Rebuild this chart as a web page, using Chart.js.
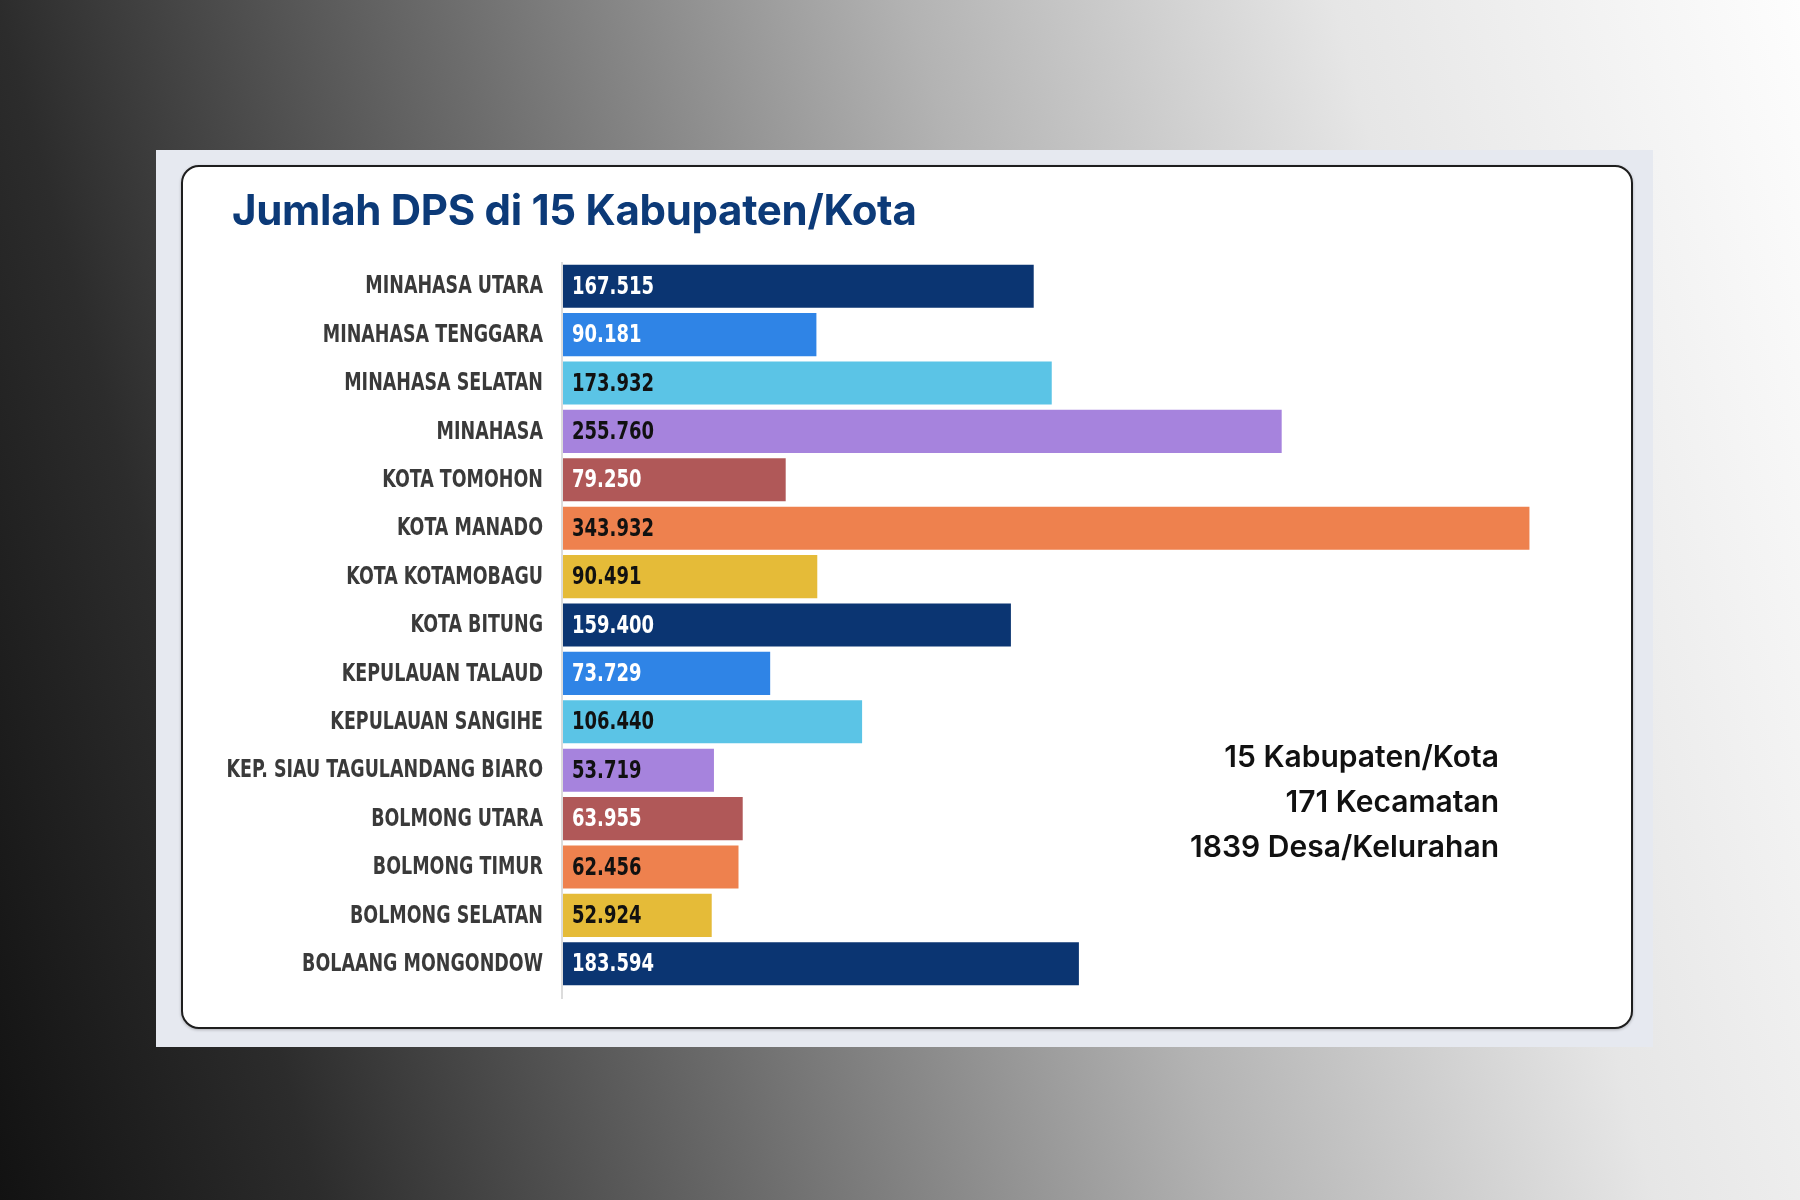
<!DOCTYPE html>
<html>
<head>
<meta charset="utf-8">
<script src="https://cdn.jsdelivr.net/npm/chart.js@4.4.1/dist/chart.umd.min.js"></script>
<style>
  html, body { margin: 0; padding: 0; }
  body {
    width: 1800px; height: 1200px; position: relative; overflow: hidden;
    background: linear-gradient(75deg, #121212 0%, #2c2c2c 15%, #6c6c6c 36%, #b3b3b3 58%, #e6e6e6 78%, #fdfdfd 100%);
  }
  #panel { position: absolute; left: 156px; top: 150px; width: 1497px; height: 897px; background: #e6e9f0; }
  #box {
    position: absolute; left: 181px; top: 165px; width: 1448px; height: 860px;
    background: #fff; border: 2px solid #1e1e1e; border-radius: 18px;
    box-shadow: 0 1px 3px rgba(0,0,0,0.25);
  }
  #title {
    position: absolute; left: 232px; top: 189px; margin: 0;
    font: 700 42px/1 Inter, "Open Sans", sans-serif; letter-spacing: -0.3px;
    color: #0c3a78; white-space: nowrap;
  }
  #stats {
    position: absolute; right: 301px; top: 734px; text-align: right;
    font: 600 30px/45px Inter, "Open Sans", sans-serif; color: #111;
  }
  #wrap { position: absolute; left: 0; top: 0; width: 1800px; height: 1200px; }
</style>
</head>
<body>
<div id="panel"></div>
<div id="box"></div>
<div id="wrap"><canvas id="dps-chart" width="1800" height="1200"></canvas></div>
<h1 id="title">Jumlah DPS di 15 Kabupaten/Kota</h1>
<div id="stats">15 Kabupaten/Kota<br>171 Kecamatan<br>1839 Desa/Kelurahan</div>
<script>
// data
const regions = ['MINAHASA UTARA', 'MINAHASA TENGGARA', 'MINAHASA SELATAN', 'MINAHASA', 'KOTA TOMOHON',
    'KOTA MANADO', 'KOTA KOTAMOBAGU', 'KOTA BITUNG', 'KEPULAUAN TALAUD', 'KEPULAUAN SANGIHE',
    'KEP. SIAU TAGULANDANG BIARO', 'BOLMONG UTARA', 'BOLMONG TIMUR', 'BOLMONG SELATAN', 'BOLAANG MONGONDOW'];
const dpsValues = [167515, 90181, 173932, 255760, 79250, 343932, 90491, 159400, 73729, 106440,
    53719, 63955, 62456, 52924, 183594];

// colour cycle used in the picture
const palette = ['#0b3572', '#2f84e6', '#5bc4e6', '#a683dd', '#b05858', '#ee814e', '#e5bb38'];
const labelInk = ['#fff', '#fff', '#111', '#111', '#fff', '#111', '#111'];

const barColors = dpsValues.map((v, i) => palette[i % palette.length]);
const valueColors = dpsValues.map((v, i) => labelInk[i % labelInk.length]);

const condensedFont = '"Liberation Sans Narrow", "DejaVu Sans Condensed", "DejaVu Sans", sans-serif';

function formatId(n) {
    return String(n).replace(/\B(?=(\d{3})+(?!\d))/g, '.');
}

// squeeze text horizontally, the installed fonts are wider than the original condensed face
function narrowText(ctx, text, x, y, squeeze) {
    ctx.save();
    ctx.translate(x, y);
    ctx.scale(squeeze, 1);
    ctx.fillText(text, 0, 0);
    ctx.restore();
}

// category names, axis line and the value inside each bar
const barText = {
    id: 'barText',
    afterDraw(chart) {
        const ctx = chart.ctx;
        const yScale = chart.scales.y;
        const area = chart.chartArea;
        ctx.save();

        ctx.strokeStyle = '#dcdcdc';
        ctx.lineWidth = 2;
        ctx.beginPath();
        ctx.moveTo(area.left - 1, area.top);
        ctx.lineTo(area.left - 1, area.bottom + 11);
        ctx.stroke();

        ctx.font = 'bold 24px ' + condensedFont;
        ctx.fillStyle = '#3a3a3a';
        ctx.textAlign = 'right';
        ctx.textBaseline = 'middle';
        regions.forEach((name, i) => {
            narrowText(ctx, name, area.left - 20, yScale.getPixelForTick(i) + 1, 0.81);
        });

        const meta = chart.getDatasetMeta(0);
        ctx.font = 'bold 25px ' + condensedFont;
        ctx.textAlign = 'left';
        meta.data.forEach((bar, i) => {
            ctx.fillStyle = valueColors[i];
            narrowText(ctx, formatId(dpsValues[i]), bar.base + 9, bar.y + 1, 0.8);
        });
        ctx.restore();
    }
};

var ctx = document.getElementById('dps-chart').getContext('2d');
var chart = new Chart(ctx, {
    type: 'bar',
    data: {
        labels: regions,
        datasets: [{
            data: dpsValues,
            backgroundColor: barColors,
            borderWidth: 0,
            categoryPercentage: 1,
            barPercentage: 0.89
        }]
    },
    options: {
        indexAxis: 'y',
        responsive: false,
        devicePixelRatio: 1,
        animation: false,
        layout: { padding: { left: 0, right: 113, top: 262, bottom: 212 } },
        plugins: { legend: { display: false }, tooltip: { enabled: false } },
        scales: {
            x: { display: false, min: 0, max: 400000 },
            y: {
                afterFit: (scale) => { scale.width = 563; },
                grid: { display: false },
                border: { display: false },
                ticks: { display: false }
            }
        }
    },
    plugins: [barText]
});
</script>
</body>
</html>
